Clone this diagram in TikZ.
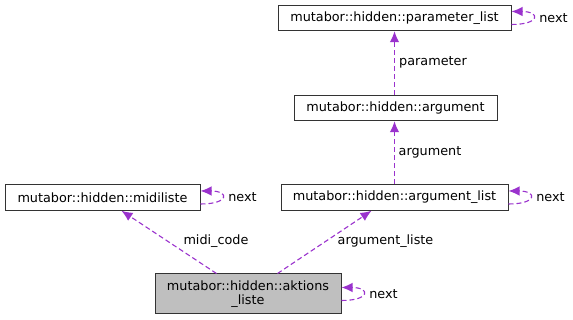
\documentclass[tikz,border=0pt]{standalone}
\usepackage{fontspec}
\setmainfont{DejaVu Sans}
\usetikzlibrary{math, calc, arrows.meta}
\definecolor{edgeviolet}{HTML}{9A32CD}
\definecolor{boxgrey}{HTML}{BFBFBF}

\begin{document}
\begin{tikzpicture}[x=1pt, y=-1pt, line width=1pt,
    font=\fontsize{12.8}{14}\selectfont,
    cls/.style={draw=black!80, fill=white, inner sep=0pt, align=center, minimum height=25.5pt},
    rel/.style={draw=edgeviolet, line width=1.1pt, dash pattern=on 5pt off 3pt, -{Latex[length=11pt, width=9.5pt]}},
    lbl/.style={inner sep=0pt}]
    \tikzmath{
        \loopout=29;
        \loopgap=6.5;
        \nextshift=42;
    }
    \useasboundingbox (0, 0) rectangle (573, 320);

    % classes
    \node [cls, minimum width=233pt] (plist) at (394.5, 18) {mutabor::hidden::parameter\_list};
    \node [cls, minimum width=203pt] (arg) at (395.5, 108) {mutabor::hidden::argument};
    \node [cls, minimum width=227pt] (alist) at (394.5, 197.5) {mutabor::hidden::argument\_list};
    \node [cls, minimum width=195pt] (midi) at (102.5, 197.5) {mutabor::hidden::midiliste};
    \node [cls, fill=boxgrey, minimum width=186pt, minimum height=40pt] (aktions) at (248, 294)
        {mutabor::hidden::aktions\\\_liste};

    % members
    \draw [rel] (arg.north -| 394.5, 0) -- (plist.south -| 394.5, 0);
    \node [lbl] (lparameter) at (433, 62) {parameter};
    \draw [rel] (alist.north -| 394.5, 0) -- (arg.south -| 394.5, 0);
    \node [lbl] (largument) at (430, 152) {argument};
    \draw [rel] ($ (aktions.north west) + (62, 0) $) -- ($ (midi.south west) + (117, 0) $);
    \node [lbl] (lmidi) at (216, 241) {midi\_code};
    \draw [rel] ($ (aktions.north west) + (123, 0) $) -- ($ (alist.south west) + (91, 0) $);
    \node [lbl] (largliste) at (385.5, 241) {argument\_liste};

    % next pointers
    \foreach \n in {plist, alist, midi, aktions}{%
            \draw [rel] ([yshift=-\loopgap pt] \n.east) .. controls +(\loopout, 0) and +(\loopout, 0) .. ([yshift=\loopgap pt] \n.east);
            \node [lbl] (next-\n) at ([xshift=\nextshift pt] \n.east) {next};
        }
\end{tikzpicture}
\end{document}
